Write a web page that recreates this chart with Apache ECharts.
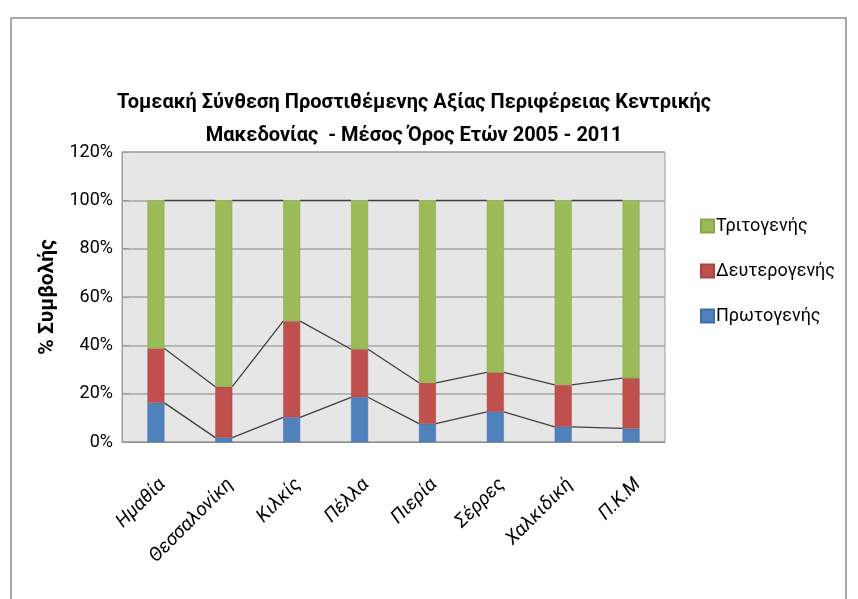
<!DOCTYPE html>
<html><head><meta charset="utf-8">
<script src="https://cdn.jsdelivr.net/npm/echarts@6/dist/echarts.min.js"></script>
<style>html,body{margin:0;padding:0;background:#fff}#c{width:858px;height:599px}</style>
</head><body><div id="c"></div>
<script>
const categories = ['Ημαθία','Θεσσαλονίκη','Κιλκίς','Πέλλα','Πιερία','Σέρρες','Χαλκιδική','Π.Κ.Μ'];
const primary   = [16.2, 1.8, 10.2, 18.5, 7.6, 12.5, 6.3, 5.6];
const secondary = [22.5, 21.1, 39.8, 19.9, 16.9, 16.3, 17.3, 20.8];
const tertiary  = [61.3, 77.1, 50.0, 61.6, 75.5, 71.2, 76.4, 73.6];
const yTicks = [0, 20, 40, 60, 80, 100, 120];

const FONT = "Roboto, 'Open Sans', sans-serif";
const cum1 = primary;
const cum2 = primary.map((p,i)=>p+secondary[i]);
const cum3 = cum2.map((v,i)=>v+tertiary[i]);
const lineData = categories.slice(0,-1).map((c,i)=>[i, cum1[i], cum2[i], cum3[i], cum1[i+1], cum2[i+1], cum3[i+1]]);

const chart = echarts.init(document.getElementById('c'));
chart.setOption({
  animation:false,
  backgroundColor:'#fff',
  graphic:[{type:'rect', shape:{x:11,y:18,width:835,height:600}, style:{fill:'none', stroke:'#8c8c8c', lineWidth:1.5}, z:-1}],
  title:{
    text:'Τομεακή Σύνθεση Προστιθέμενης Αξίας Περιφέρειας Κεντρικής\nΜακεδονίας  - Μέσος Όρος Ετών 2005 - 2011',
    left:409, top:81, textAlign:'center',
    textStyle:{fontFamily:FONT, fontSize:20, fontWeight:'bold', color:'#000', lineHeight:33}
  },
  legend:{
    orient:'vertical', left:695, top:212, itemGap:27, itemWidth:13, itemHeight:13,
    icon:'rect',
    data:['Τριτογενής','Δευτερογενής','Πρωτογενής'],
    textStyle:{fontFamily:FONT, fontSize:18, color:'#000', padding:[0,0,0,-3]}
  },
  grid:{left:122, right:193, top:152, bottom:157, show:true, backgroundColor:'#e6e6e6', borderColor:'#9a9a9a', borderWidth:1},
  xAxis:{
    type:'category', data:categories,
    axisLine:{lineStyle:{color:'#8c8c8c'}}, axisTick:{show:false},
    axisLabel:{rotate:45, fontFamily:FONT, fontStyle:'italic', fontSize:19, color:'#000', margin:33, interval:0, verticalAlign:'top'}
  },
  yAxis:{
    type:'value', min:0, max:120, interval:20,
    name:'% Συμβολής', nameLocation:'middle', nameGap:59, nameRotate:90,
    nameTextStyle:{fontFamily:FONT, fontSize:21, fontWeight:'bold', color:'#000'},
    axisLine:{show:true, lineStyle:{color:'#9a9a9a'}}, axisTick:{show:true, inside:true, length:7, lineStyle:{color:'#9a9a9a'}},
    axisLabel:{formatter:'{value}%', fontFamily:FONT, fontSize:18, color:'#000', margin:9},
    splitLine:{lineStyle:{color:'#a6a6a6', width:1.5}}
  },
  series:[
    {name:'Πρωτογενής', type:'bar', stack:'s', data:primary, barWidth:'25%', itemStyle:{color:'#4f81bd', borderColor:'#3f6fa8', borderWidth:0.5}},
    {name:'Δευτερογενής', type:'bar', stack:'s', data:secondary, barWidth:'25%', itemStyle:{color:'#c0504d', borderColor:'#a84542', borderWidth:0.5}},
    {name:'Τριτογενής', type:'bar', stack:'s', data:tertiary, barWidth:'25%', itemStyle:{color:'#9bbb59', borderColor:'#86a64a', borderWidth:0.5}},
    {type:'custom', data:lineData, z:5, silent:true,
     renderItem:function(params, api){
       const i = api.value(0);
       const bw = api.size([1,0])[0];
       const h = bw*0.25/2;
       const kids=[];
       for(let k=1;k<=3;k++){
         const a = api.coord([i, api.value(k)]);
         const b = api.coord([i+1, api.value(k+3)]);
         kids.push({type:'line', shape:{x1:a[0]+h, y1:a[1], x2:b[0]-h, y2:b[1]}, style:{stroke:'#404040', lineWidth:1.3}});
       }
       return {type:'group', children:kids};
     }}
  ]
});
</script></body></html>
